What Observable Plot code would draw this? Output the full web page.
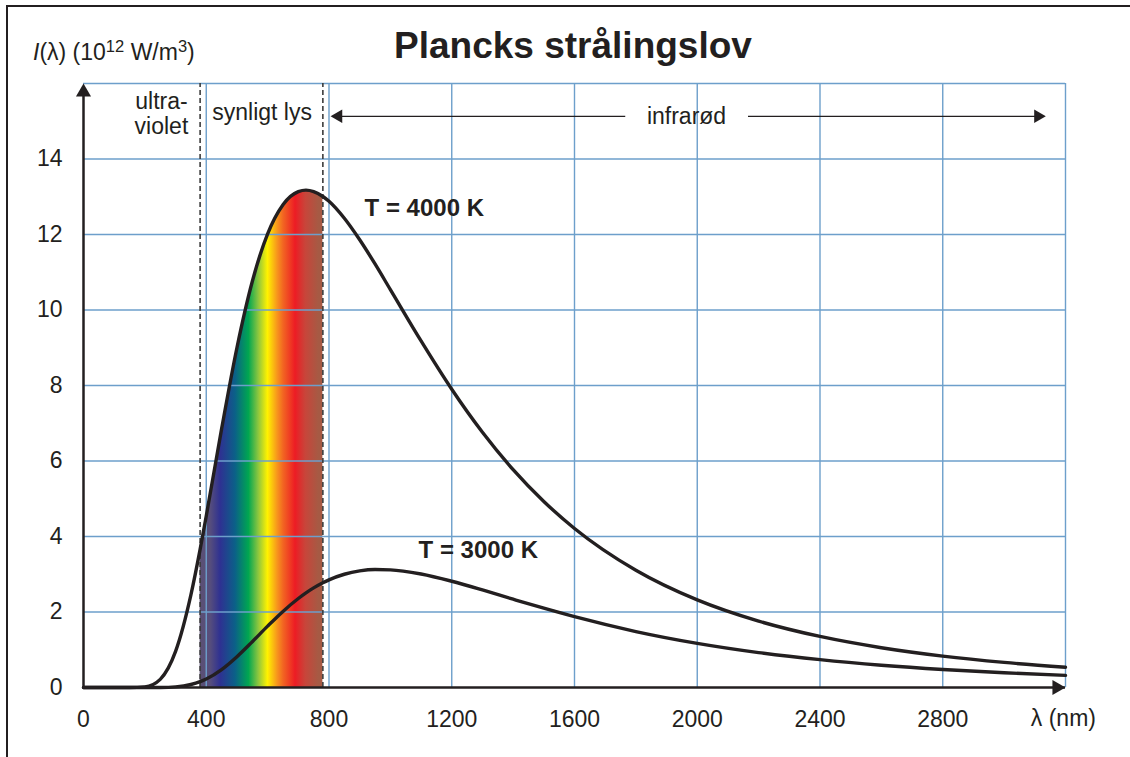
<!DOCTYPE html>
<html><head><meta charset="utf-8">
<script src="https://cdn.jsdelivr.net/npm/d3@7"></script>
<script src="https://cdn.jsdelivr.net/npm/@observablehq/plot@0.6"></script>
<style>
html,body{margin:0;padding:0;background:#fff;}
#wrap{position:relative;width:1130px;height:757px;overflow:hidden;font-family:"Liberation Sans",Arial,sans-serif;color:#231f20;background:#fff;}
#border{position:absolute;left:6px;top:5px;width:1200px;height:800px;border-left:2.5px solid #231f20;border-top:2.5px solid #231f20;pointer-events:none;}
#ylab{position:absolute;left:33px;top:41px;font-size:23px;line-height:23px;white-space:nowrap;}
#ylab sup{font-size:0.72em;line-height:0;vertical-align:8px;}
#chart{position:absolute;left:0;top:0;}
</style>
</head><body>
<div id="wrap">
  <div id="chart"></div>
  <div id="border"></div>
  <div id="ylab"><i>I</i>(λ) (10<sup>12</sup> W/m<sup>3</sup>)</div>
</div>
<script>
// wavelength (nm) and spectral radiance (10^12 W/m^3)
const wavelength = [0,100,150,200,250,300,350,380,400,450,500,550,600,650,700,725,750,780,800,850,900,950,1000,1100,1200,1300,1400,1500,1600,1800,2000,2200,2400,2600,2800,3000,3200];
const intensity4000 = [0,0,0.0002,0.018,0.216,0.955,2.452,3.658,4.544,6.85,9.00,10.755,12.018,12.79,13.136,13.175,13.137,13.007,12.88,12.43,11.86,11.22,10.54,9.18,7.90,6.76,5.77,4.927,4.213,3.106,2.32,1.758,1.352,1.054,0.832,0.665,0.537];
const intensity3000 = [0,0,0,0,0.0018,0.0175,0.0797,0.156,0.2267,0.4768,0.8175,1.214,1.625,2.016,2.358,2.507,2.638,2.775,2.852,3.0,3.088,3.124,3.117,3.007,2.815,2.584,2.339,2.1,1.875,1.482,1.169,0.925,0.737,0.591,0.478,0.390,0.321];

const xTicks = [0,400,800,1200,1600,2000,2400,2800];
const yTicks = [0,2,4,6,8,10,12,14];
const xGrid = [400,800,1200,1600,2000,2400,2800,3200];
const yGrid = [2,4,6,8,10,12,14,16];
const xDomain = [0,3200];
const yDomain = [0,16];
const visibleBounds = [380,780];

const spectrumNm = [380,414,447,495,539,571,601,633,652,691,724,767,780];
const spectrumColors = ["#5b5074","#574e7c","#2e3192","#0b6088","#00a651","#8dc63f","#fff200","#f7941d","#f26522","#ed1c24","#c8453a","#a65a44","#a65a44"];

const curveLabels = ["T = 4000 K","T = 3000 K"];
const curveLabelX = [916,1092];
const curveLabelY = [12.48,3.42];

const data = wavelength.map((w,i)=>({w, i4:intensity4000[i], i3:intensity3000[i]}));
const visible = data.filter(d => d.w >= visibleBounds[0] && d.w <= visibleBounds[1]);

const ink = "#231f20";
const gridColor = "#6d9fcb";
const fontFam = "Liberation Sans, Arial, sans-serif";

const chart = Plot.plot({
  width: 1130, height: 757,
  marginLeft: 83, marginRight: 65, marginTop: 83, marginBottom: 70,
  x: {domain: xDomain},
  y: {domain: yDomain},
  style: {fontFamily: fontFam, fontSize: "23px", color: ink, background: "transparent", overflow: "visible"},
  marks: [
    Plot.areaY(visible, {x:"w", y:"i4", fill:"url(#spectrum)", curve:"monotone-x"}),
    Plot.gridX(xGrid, {stroke: gridColor, strokeOpacity: 1, strokeWidth: 1.4}),
    Plot.gridY(yGrid, {stroke: gridColor, strokeOpacity: 1, strokeWidth: 1.4}),
    Plot.ruleX(visibleBounds, {y1: yDomain[0], y2: yDomain[1], stroke: "#3c3c3c", strokeWidth: 1.6, strokeDasharray: "5,3"}),
    Plot.axisX({ticks: xTicks, tickSize: 0, tickPadding: 23, fontSize: 23, label: null, tickFormat: d => String(d), fill: ink}),
    Plot.axisY({ticks: yTicks, tickSize: 0, tickPadding: 21, fontSize: 23, label: null, tickFormat: d => String(d), fill: ink}),
    Plot.line(data, {x:"w", y:"i4", stroke: ink, strokeWidth: 3.4, curve:"monotone-x"}),
    Plot.line(data, {x:"w", y:"i3", stroke: ink, strokeWidth: 3.4, curve:"monotone-x"}),
    Plot.ruleY([yDomain[0]], {x1: xDomain[0], x2: xDomain[1], stroke: ink, strokeWidth: 2.5}),
    Plot.ruleX([xDomain[0]], {y1: yDomain[0], y2: yDomain[1] - 0.3, stroke: ink, strokeWidth: 2.5}),
    Plot.dot([{x: xDomain[0], y: yDomain[1]}], {x:"x", y:"y", symbol:"triangle", r:5.6, fill: ink, stroke: null, dy: 8.7}),
    Plot.dot([{x: xDomain[1], y: yDomain[0]}], {x:"x", y:"y", symbol:"triangle", r:5.6, fill: ink, stroke: null, dx: -8.7, rotate: 90}),
    // infrared arrows
    Plot.ruleY([15.13], {x1: 815, x2: 1767, stroke: ink, strokeWidth: 1.3}),
    Plot.ruleY([15.13], {x1: 2167, x2: 3126, stroke: ink, strokeWidth: 1.3}),
    Plot.dot([{x: 805, y: 15.13}], {x:"x", y:"y", symbol:"triangle", r:5.0, fill: ink, stroke: null, dx: 7.8, rotate: -90}),
    Plot.dot([{x: 3136, y: 15.13}], {x:"x", y:"y", symbol:"triangle", r:5.0, fill: ink, stroke: null, dx: -7.8, rotate: 90}),
    // region labels
    Plot.text(["ultra-"], {x: 254, y: 15.33, text: d => d, textAnchor: "middle", lineAnchor: "bottom", fontSize: 23, fill: ink}),
    Plot.text(["violet"], {x: 254, y: 14.66, text: d => d, textAnchor: "middle", lineAnchor: "bottom", fontSize: 23, fill: ink}),
    Plot.text(["synligt lys"], {x: 582, y: 15.02, text: d => d, textAnchor: "middle", lineAnchor: "bottom", fontSize: 23, fill: ink}),
    Plot.text(["infrarød"], {x: 1965, y: 14.92, text: d => d, textAnchor: "middle", lineAnchor: "bottom", fontSize: 23, fill: ink}),
    // curve labels
    Plot.text(curveLabels, {x: (d,i) => curveLabelX[i], y: (d,i) => curveLabelY[i], text: d => d, textAnchor: "start", lineAnchor: "bottom", fontSize: 24, fontWeight: "bold", fill: ink}),
    // axis label and title
    Plot.text(["λ (nm)"], {x: 3087, y: -1.03, text: d => d, textAnchor: "start", lineAnchor: "bottom", fontSize: 23, fill: ink}),
    Plot.text(["Plancks strålingslov"], {x: 1595, y: 16.67, text: d => d, textAnchor: "middle", lineAnchor: "bottom", fontSize: 37, fontWeight: "bold", fill: ink})
  ]
});

const svg = d3.select(chart);
const defs = svg.insert("defs", ":first-child");
const grad = defs.append("linearGradient").attr("id","spectrum")
  .attr("x1","0").attr("x2","1").attr("y1","0").attr("y2","0");
spectrumNm.forEach((nm,i) => {
  grad.append("stop")
    .attr("offset", (nm - visibleBounds[0]) / (visibleBounds[1] - visibleBounds[0]))
    .attr("stop-color", spectrumColors[i]);
});
document.getElementById("chart").appendChild(chart);
</script>
</body></html>
